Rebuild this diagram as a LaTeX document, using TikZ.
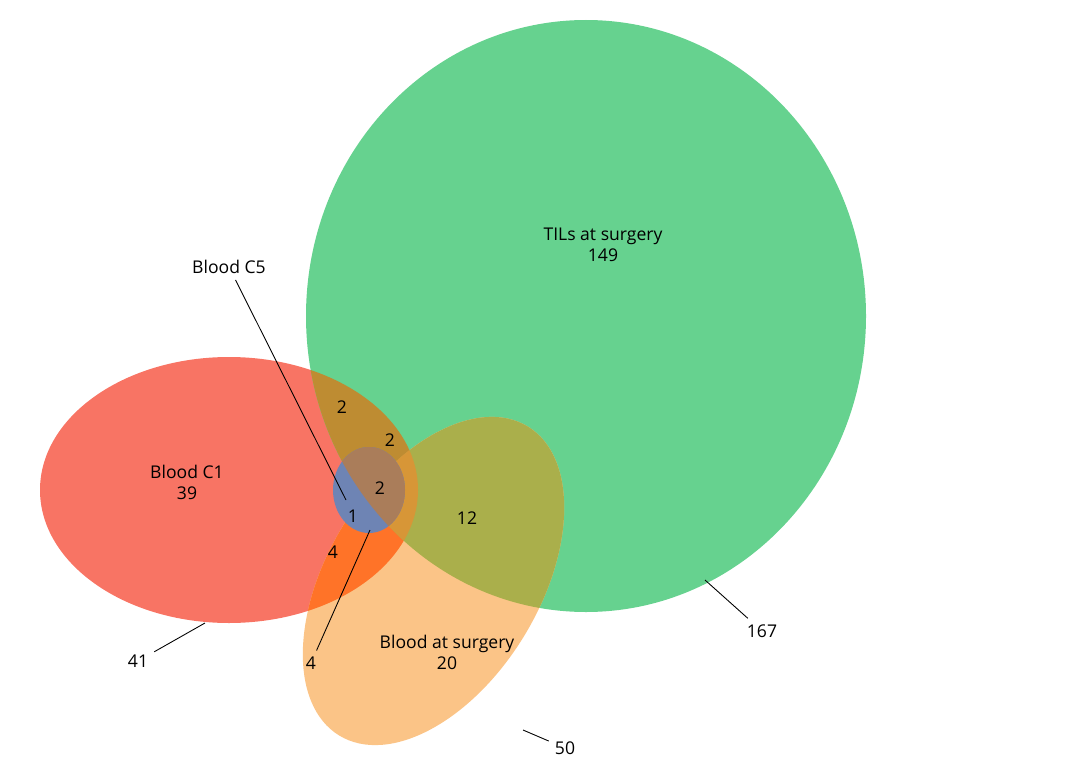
\documentclass[tikz,border=0pt]{standalone}
\usepackage{fontspec}
\setmainfont{Open Sans}
\definecolor{tilgreen}{RGB}{102,210,143}
\definecolor{cred}{RGB}{248,116,100}
\definecolor{surgorange}{RGB}{251,196,135}
\definecolor{redgreen}{RGB}{190,140,50}
\definecolor{redorange}{RGB}{255,115,40}
\definecolor{greenorange}{RGB}{170,175,75}
\definecolor{allthree}{RGB}{215,150,55}
\definecolor{cblue}{RGB}{110,132,180}
\definecolor{bluegreen}{RGB}{170,125,90}
\def\greenset{(586,316) ellipse [x radius=280, y radius=296]}
\def\redset{(229,490) ellipse [x radius=189, y radius=133]}
\def\orangeset{[rotate around={58.6:(433.5,581)}] (433.5,581) ellipse [x radius=181, y radius=106]}
\def\blueset{(369,490) ellipse [x radius=36, y radius=43]}
\begin{document}
\begin{tikzpicture}[x=0.02cm, y=-0.02cm,
  every node/.style={font=\fontsize{10}{12}\selectfont, text=black},
  lead/.style={draw=black, line width=0.5pt}
]
\useasboundingbox (0,0) rectangle (1088,767);
% base sets
\fill[cred] \redset;
\fill[tilgreen] \greenset;
\fill[surgorange] \orangeset;
% overlaps
\begin{scope}
  \clip \redset;
  \fill[redgreen] \greenset;
  \fill[redorange] \orangeset;
\end{scope}
\begin{scope}
  \clip \greenset;
  \fill[greenorange] \orangeset;
\end{scope}
\begin{scope}
  \clip \redset; \clip \greenset;
  \fill[allthree] \orangeset;
\end{scope}
\fill[cblue] \blueset;
\begin{scope}
  \clip \blueset;
  \fill[bluegreen] \greenset;
\end{scope}
% labels
\node (til) at (603,245) [align=center] {TILs at surgery\\149};
\node (c1) at (187,482) [align=center] {Blood C1\\39};
\node (surg) at (447,652) [align=center] {Blood at surgery\\20};
\node (c5) at (229,267) {Blood C5};
\node (rg) at (342,407) {2};
\node (rgo) at (390,440) {2};
\node (bg) at (380,488) {2};
\node (b) at (353,516) {1};
\node (ro) at (333,552) {4};
\node (go) at (467,518) {12};
\node (n41) at (138,661) {41};
\node (n4) at (311,663) {4};
\node (n167) at (762,631) {167};
\node (n50) at (565,748) {50};
% leader lines
\coordinate (c5end) at (346,500);
\coordinate (b4end) at (370,530);
\coordinate (redend) at (205,623);
\coordinate (greenend) at (705,580);
\coordinate (orangeend) at (523,730);
\draw[lead] (c5) -- (c5end);
\draw[lead] (n4) -- (b4end);
\draw[lead] (n41) -- (redend);
\draw[lead] (n167) -- (greenend);
\draw[lead] (n50) -- (orangeend);
\end{tikzpicture}
\end{document}
